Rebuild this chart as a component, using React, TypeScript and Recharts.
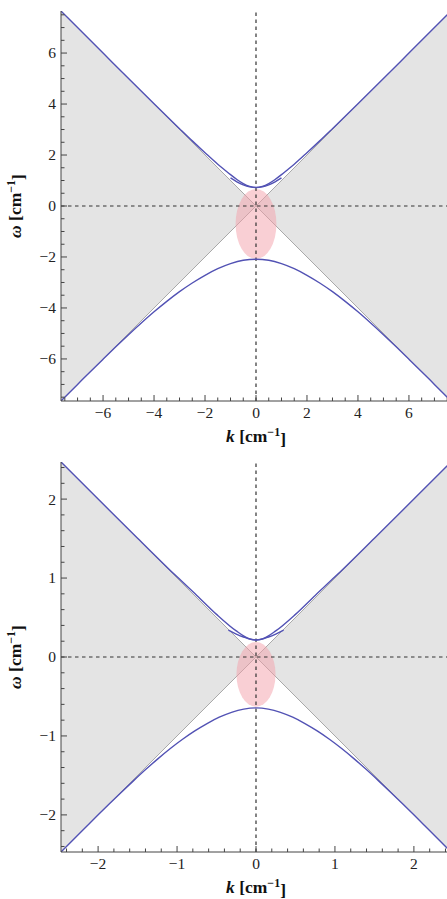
import React from 'react';
import { ComposedChart, Line, Area, XAxis, YAxis, ReferenceLine, ReferenceArea } from 'recharts';

// ---- wide view (|k|, |ω| up to ~7.65) ----
const wideRange = 7.65;
const wideMajor = [-6, -4, -2, 0, 2, 4, 6];
const wideMinorStep = 0.5;

// edges of the light cone, ω = ±k
const wideConeK = [-7.65, 0, 7.65];
const wideConeW = [7.65, 0, 7.65];

const wideUpperK = [-7.65, -6, -5, -4, -3, -2.5, -2, -1.5, -1.25, -1, -0.75, -0.5, -0.25, 0, 0.25, 0.5, 0.75, 1, 1.25, 1.5, 2, 2.5, 3, 4, 5, 6, 7.65];
const wideUpperW = [7.65, 6.0, 5.0, 4.01, 3.035, 2.555, 2.09, 1.64, 1.435, 1.23, 1.04, 0.88, 0.77, 0.73, 0.77, 0.88, 1.04, 1.23, 1.435, 1.64, 2.09, 2.555, 3.035, 4.01, 5.0, 6.0, 7.65];

const wideInnerK = [-1, -0.75, -0.5, -0.25, 0, 0.25, 0.5, 0.75, 1];
const wideInnerW = [1.1, 0.95, 0.83, 0.75, 0.72, 0.75, 0.83, 0.95, 1.1];

const wideLowerK = [-7.65, -7, -6.5, -6, -5.5, -5, -4.5, -4, -3.5, -3, -2.5, -2, -1.5, -1, -0.5, 0, 0.5, 1, 1.5, 2, 2.5, 3, 3.5, 4, 4.5, 5, 5.5, 6, 6.5, 7, 7.65];
const wideLowerW = [-7.65, -7.0, -6.5, -6.01, -5.525, -5.05, -4.59, -4.15, -3.74, -3.36, -3.02, -2.72, -2.46, -2.26, -2.13, -2.09, -2.13, -2.26, -2.46, -2.72, -3.02, -3.36, -3.74, -4.15, -4.59, -5.05, -5.525, -6.01, -6.5, -7.0, -7.65];

// shaded gap region
const wideSpot = { k: [-0.8, 0.8], w: [-2.08, 0.67] };

// ---- close-up view (|k|, |ω| up to ~2.47) ----
const zoomRange = 2.47;
const zoomMajor = [-2, -1, 0, 1, 2];
const zoomMinorStep = 0.2;

const zoomConeK = [-2.47, 0, 2.47];
const zoomConeW = [2.47, 0, 2.47];

const zoomUpperK = [-2.47, -2, -1.5, -1, -0.75, -0.5, -0.25, -0.1, 0, 0.1, 0.25, 0.5, 0.75, 1, 1.5, 2, 2.47];
const zoomUpperW = [2.47, 2.0, 1.505, 1.015, 0.78, 0.54, 0.33, 0.237, 0.215, 0.237, 0.33, 0.54, 0.78, 1.015, 1.505, 2.0, 2.47];

const zoomInnerK = [-0.35, -0.25, -0.15, -0.07, 0, 0.07, 0.15, 0.25, 0.35];
const zoomInnerW = [0.34, 0.29, 0.25, 0.225, 0.215, 0.225, 0.25, 0.29, 0.34];

const zoomLowerK = [-2.47, -2.325, -2.17, -2.015, -1.86, -1.705, -1.55, -1.395, -1.24, -1.085, -0.93, -0.775, -0.62, -0.465, -0.31, -0.155, 0, 0.155, 0.31, 0.465, 0.62, 0.775, 0.93, 1.085, 1.24, 1.395, 1.55, 1.705, 1.86, 2.015, 2.17, 2.325, 2.47];
const zoomLowerW = [-2.47, -2.325, -2.17, -2.015, -1.863, -1.713, -1.566, -1.423, -1.287, -1.159, -1.042, -0.936, -0.843, -0.763, -0.701, -0.66, -0.645, -0.66, -0.701, -0.763, -0.843, -0.936, -1.042, -1.159, -1.287, -1.423, -1.566, -1.713, -1.863, -2.015, -2.17, -2.325, -2.47];

const zoomSpot = { k: [-0.247, 0.247], w: [-0.63, 0.19] };

const FONT = '"Liberation Serif", "Times New Roman", serif';
const BLUE = '#5252b4';
const PLOT = 390;

const rows = (ks: number[], ws: number[]) => ks.map((k, i) => ({ k, w: ws[i] }));
const coneRows = (ks: number[], ws: number[]) => ks.map((k, i) => ({ k, band: [-ws[i], ws[i]] }));

const fmt = (v: number) => (v < 0 ? '\u2212' + Math.abs(v) : String(v));

const tickList = (range: number, step: number) => {
  const out: number[] = [];
  const n = Math.floor(range / step);
  for (let i = -n; i <= n; i++) out.push(Math.round(i * step * 100) / 100);
  return out;
};

const isMajor = (v: number, majors: number[]) => majors.some((m) => Math.abs(m - v) < 1e-6);

const labelStyle = { fontFamily: FONT, fontSize: 15.5, fill: '#222' };
const titleStyle = { fontFamily: FONT, fontSize: 17.5, fontWeight: 'bold' as const, fill: '#111' };

// frame ticks point into the plot, Mathematica style
const BottomTick = ({ x, y, payload, majors }: any) => {
  const major = isMajor(payload.value, majors);
  return (
    <g>
      <line x1={x} y1={y} x2={x} y2={y - (major ? 6 : 3.5)} stroke="#444" strokeWidth={1} />
      {major && (
        <text x={x} y={y + 17} textAnchor="middle" style={labelStyle}>
          {fmt(payload.value)}
        </text>
      )}
    </g>
  );
};

const TopTick = ({ x, y, payload, majors, color }: any) => {
  const major = isMajor(payload.value, majors);
  return <line x1={x} y1={y} x2={x} y2={y + (major ? 6 : 3.5)} stroke={color} strokeWidth={1} />;
};

const LeftTick = ({ x, y, payload, majors }: any) => {
  const major = isMajor(payload.value, majors);
  return (
    <g>
      <line x1={x} y1={y} x2={x + (major ? 6 : 3.5)} y2={y} stroke="#444" strokeWidth={1} />
      {major && (
        <text x={x - 5} y={y} dy="0.35em" textAnchor="end" style={labelStyle}>
          {fmt(payload.value)}
        </text>
      )}
    </g>
  );
};

const XTitle = ({ viewBox }: any) => (
  <text x={viewBox.x + viewBox.width / 2} y={viewBox.y + 41} textAnchor="middle" style={titleStyle}>
    <tspan fontStyle="italic">k</tspan>
    <tspan> [cm</tspan>
    <tspan dy="-0.5em" fontSize={12}>{'\u2212'}1</tspan>
    <tspan dy="0.5em">]</tspan>
  </text>
);

const YTitle = ({ viewBox }: any) => {
  const cx = 15;
  const cy = viewBox.y + viewBox.height / 2;
  return (
    <text x={cx} y={cy} transform={`rotate(-90 ${cx} ${cy})`} dy="0.35em" textAnchor="middle" style={titleStyle}>
      <tspan fontStyle="italic">{'\u03c9'}</tspan>
      <tspan> [cm</tspan>
      <tspan dy="-0.5em" fontSize={12}>{'\u2212'}1</tspan>
      <tspan dy="0.5em">]</tspan>
    </text>
  );
};

type Curve = { k: number[]; w: number[] };

type PanelProps = {
  top: number;
  range: number;
  majors: number[];
  minorStep: number;
  cone: Curve;
  upper: Curve;
  inner: Curve;
  lower: Curve;
  spot: Curve;
  topFrame: boolean;
};

const Panel = ({ top, range, majors, minorStep, cone, upper, inner, lower, spot, topFrame }: PanelProps) => {
  const ticks = tickList(range, minorStep);
  const domain: [number, number] = [-range, range];
  return (
    <div style={{ position: 'absolute', left: 0, top, width: 447, height: 452, overflow: 'hidden' }}>
      <ComposedChart width={61 + PLOT} height={11 + PLOT + 50} margin={{ top: 11, right: 0, bottom: 0, left: 0 }}>
        <XAxis
          dataKey="k"
          type="number"
          domain={domain}
          allowDataOverflow
          ticks={ticks}
          interval={0}
          tickSize={0}
          tickMargin={0}
          height={50}
          axisLine={{ stroke: '#444' }}
          tickLine={false}
          tick={(p: any) => <BottomTick {...p} majors={majors} />}
          label={(p: any) => <XTitle {...p} />}
        />
        <XAxis
          xAxisId="top"
          orientation="top"
          dataKey="k"
          type="number"
          domain={domain}
          allowDataOverflow
          ticks={ticks}
          interval={0}
          tickSize={0}
          tickMargin={0}
          height={0}
          axisLine={topFrame ? { stroke: '#444' } : false}
          tickLine={false}
          tick={(p: any) => <TopTick {...p} majors={majors} color={topFrame ? '#444' : '#999'} />}
        />
        <YAxis
          type="number"
          domain={domain}
          allowDataOverflow
          ticks={ticks}
          interval={0}
          tickSize={0}
          tickMargin={0}
          width={61}
          axisLine={{ stroke: '#444' }}
          tickLine={false}
          tick={(p: any) => <LeftTick {...p} majors={majors} />}
          label={(p: any) => <YTitle {...p} />}
        />
        <Area
          data={coneRows(cone.k, cone.w)}
          dataKey="band"
          type="linear"
          fill="#e4e4e4"
          fillOpacity={1}
          stroke="#a0a0a0"
          strokeWidth={0.9}
          dot={false}
          activeDot={false}
          isAnimationActive={false}
        />
        <ReferenceArea
          x1={spot.k[0]}
          x2={spot.k[1]}
          y1={spot.w[0]}
          y2={spot.w[1]}
          shape={(p: any) => (
            <ellipse cx={p.x + p.width / 2} cy={p.y + p.height / 2} rx={Math.abs(p.width) / 2} ry={Math.abs(p.height) / 2} fill="#f4a0aa" fillOpacity={0.5} />
          )}
        />
        <ReferenceLine x={0} stroke="#333" strokeWidth={1.2} strokeDasharray="3.5 3.5" />
        <ReferenceLine y={0} stroke="#333" strokeWidth={1.2} strokeDasharray="3.5 3.5" />
        <Line data={rows(upper.k, upper.w)} dataKey="w" type="monotone" stroke={BLUE} strokeWidth={1.4} dot={false} activeDot={false} isAnimationActive={false} />
        <Line data={rows(inner.k, inner.w)} dataKey="w" type="monotone" stroke={BLUE} strokeWidth={1.4} dot={false} activeDot={false} isAnimationActive={false} />
        <Line data={rows(lower.k, lower.w)} dataKey="w" type="monotone" stroke={BLUE} strokeWidth={1.4} dot={false} activeDot={false} isAnimationActive={false} />
      </ComposedChart>
    </div>
  );
};

export default function App() {
  return (
    <div style={{ position: 'absolute', left: 0, top: 0, width: 447, height: 899, overflow: 'hidden', background: '#fff' }}>
      <Panel
        top={0}
        range={wideRange}
        majors={wideMajor}
        minorStep={wideMinorStep}
        cone={{ k: wideConeK, w: wideConeW }}
        upper={{ k: wideUpperK, w: wideUpperW }}
        inner={{ k: wideInnerK, w: wideInnerW }}
        lower={{ k: wideLowerK, w: wideLowerW }}
        spot={wideSpot}
        topFrame={false}
      />
      <Panel
        top={451}
        range={zoomRange}
        majors={zoomMajor}
        minorStep={zoomMinorStep}
        cone={{ k: zoomConeK, w: zoomConeW }}
        upper={{ k: zoomUpperK, w: zoomUpperW }}
        inner={{ k: zoomInnerK, w: zoomInnerW }}
        lower={{ k: zoomLowerK, w: zoomLowerW }}
        spot={zoomSpot}
        topFrame={true}
      />
    </div>
  );
}
